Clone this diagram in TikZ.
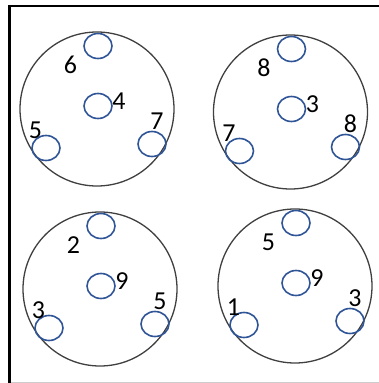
\documentclass[tikz,border=0pt]{standalone}
\usepackage{fontspec}
\setmainfont{Carlito}
\definecolor{holeblue}{RGB}{47,85,151}
\definecolor{ringgray}{RGB}{64,64,64}
\tikzset{
    digit/.style={inner sep=0pt, font=\fontsize{26}{30}\selectfont},
    plate/.pic={
        % Outer ring
        \draw[ringgray, line width=1.3bp] (0,0) circle (77);
        % Holes
        \draw[holeblue, line width=1.6bp] (1,-63) ellipse (14 and 12.5);
        \draw[holeblue, line width=1.6bp] (1,-3) ellipse (14 and 12.5);
        \draw[holeblue, line width=1.6bp] (-51,39) ellipse (14 and 12.5);
        \draw[holeblue, line width=1.6bp] (55,35) ellipse (14 and 12.5);
        % Numbers
        \foreach \t/\m/\l/\r in {#1}{
          \node[digit] (-top) at (-26.5,-44) {\t};
          \node[digit] (-mid) at (22,-8) {\m};
          \node[digit] (-left) at (-61.5,21) {\l};
          \node[digit] (-right) at (60,12) {\r};
        }
    }
}
\begin{document}
\begin{tikzpicture}[x=1bp, y=-1bp]
    \useasboundingbox (0,0) rectangle (379,383);
    % Frame
    \draw[line width=2.5bp] (9.5,383) -- (9.5,6) -- (379,6);
    \draw[gray!40, line width=1bp] (11,382) -- (379,382);
    % Plates
    \pic (p1) at (97,109) {plate={6/4/5/7}};
    \pic (p2) at (290.5,112) {plate={8/3/7/8}};
    \pic (p3) at (100,289) {plate={2/9/3/5}};
    \pic (p4) at (295,286) {plate={5/9/1/3}};
\end{tikzpicture}
\end{document}
